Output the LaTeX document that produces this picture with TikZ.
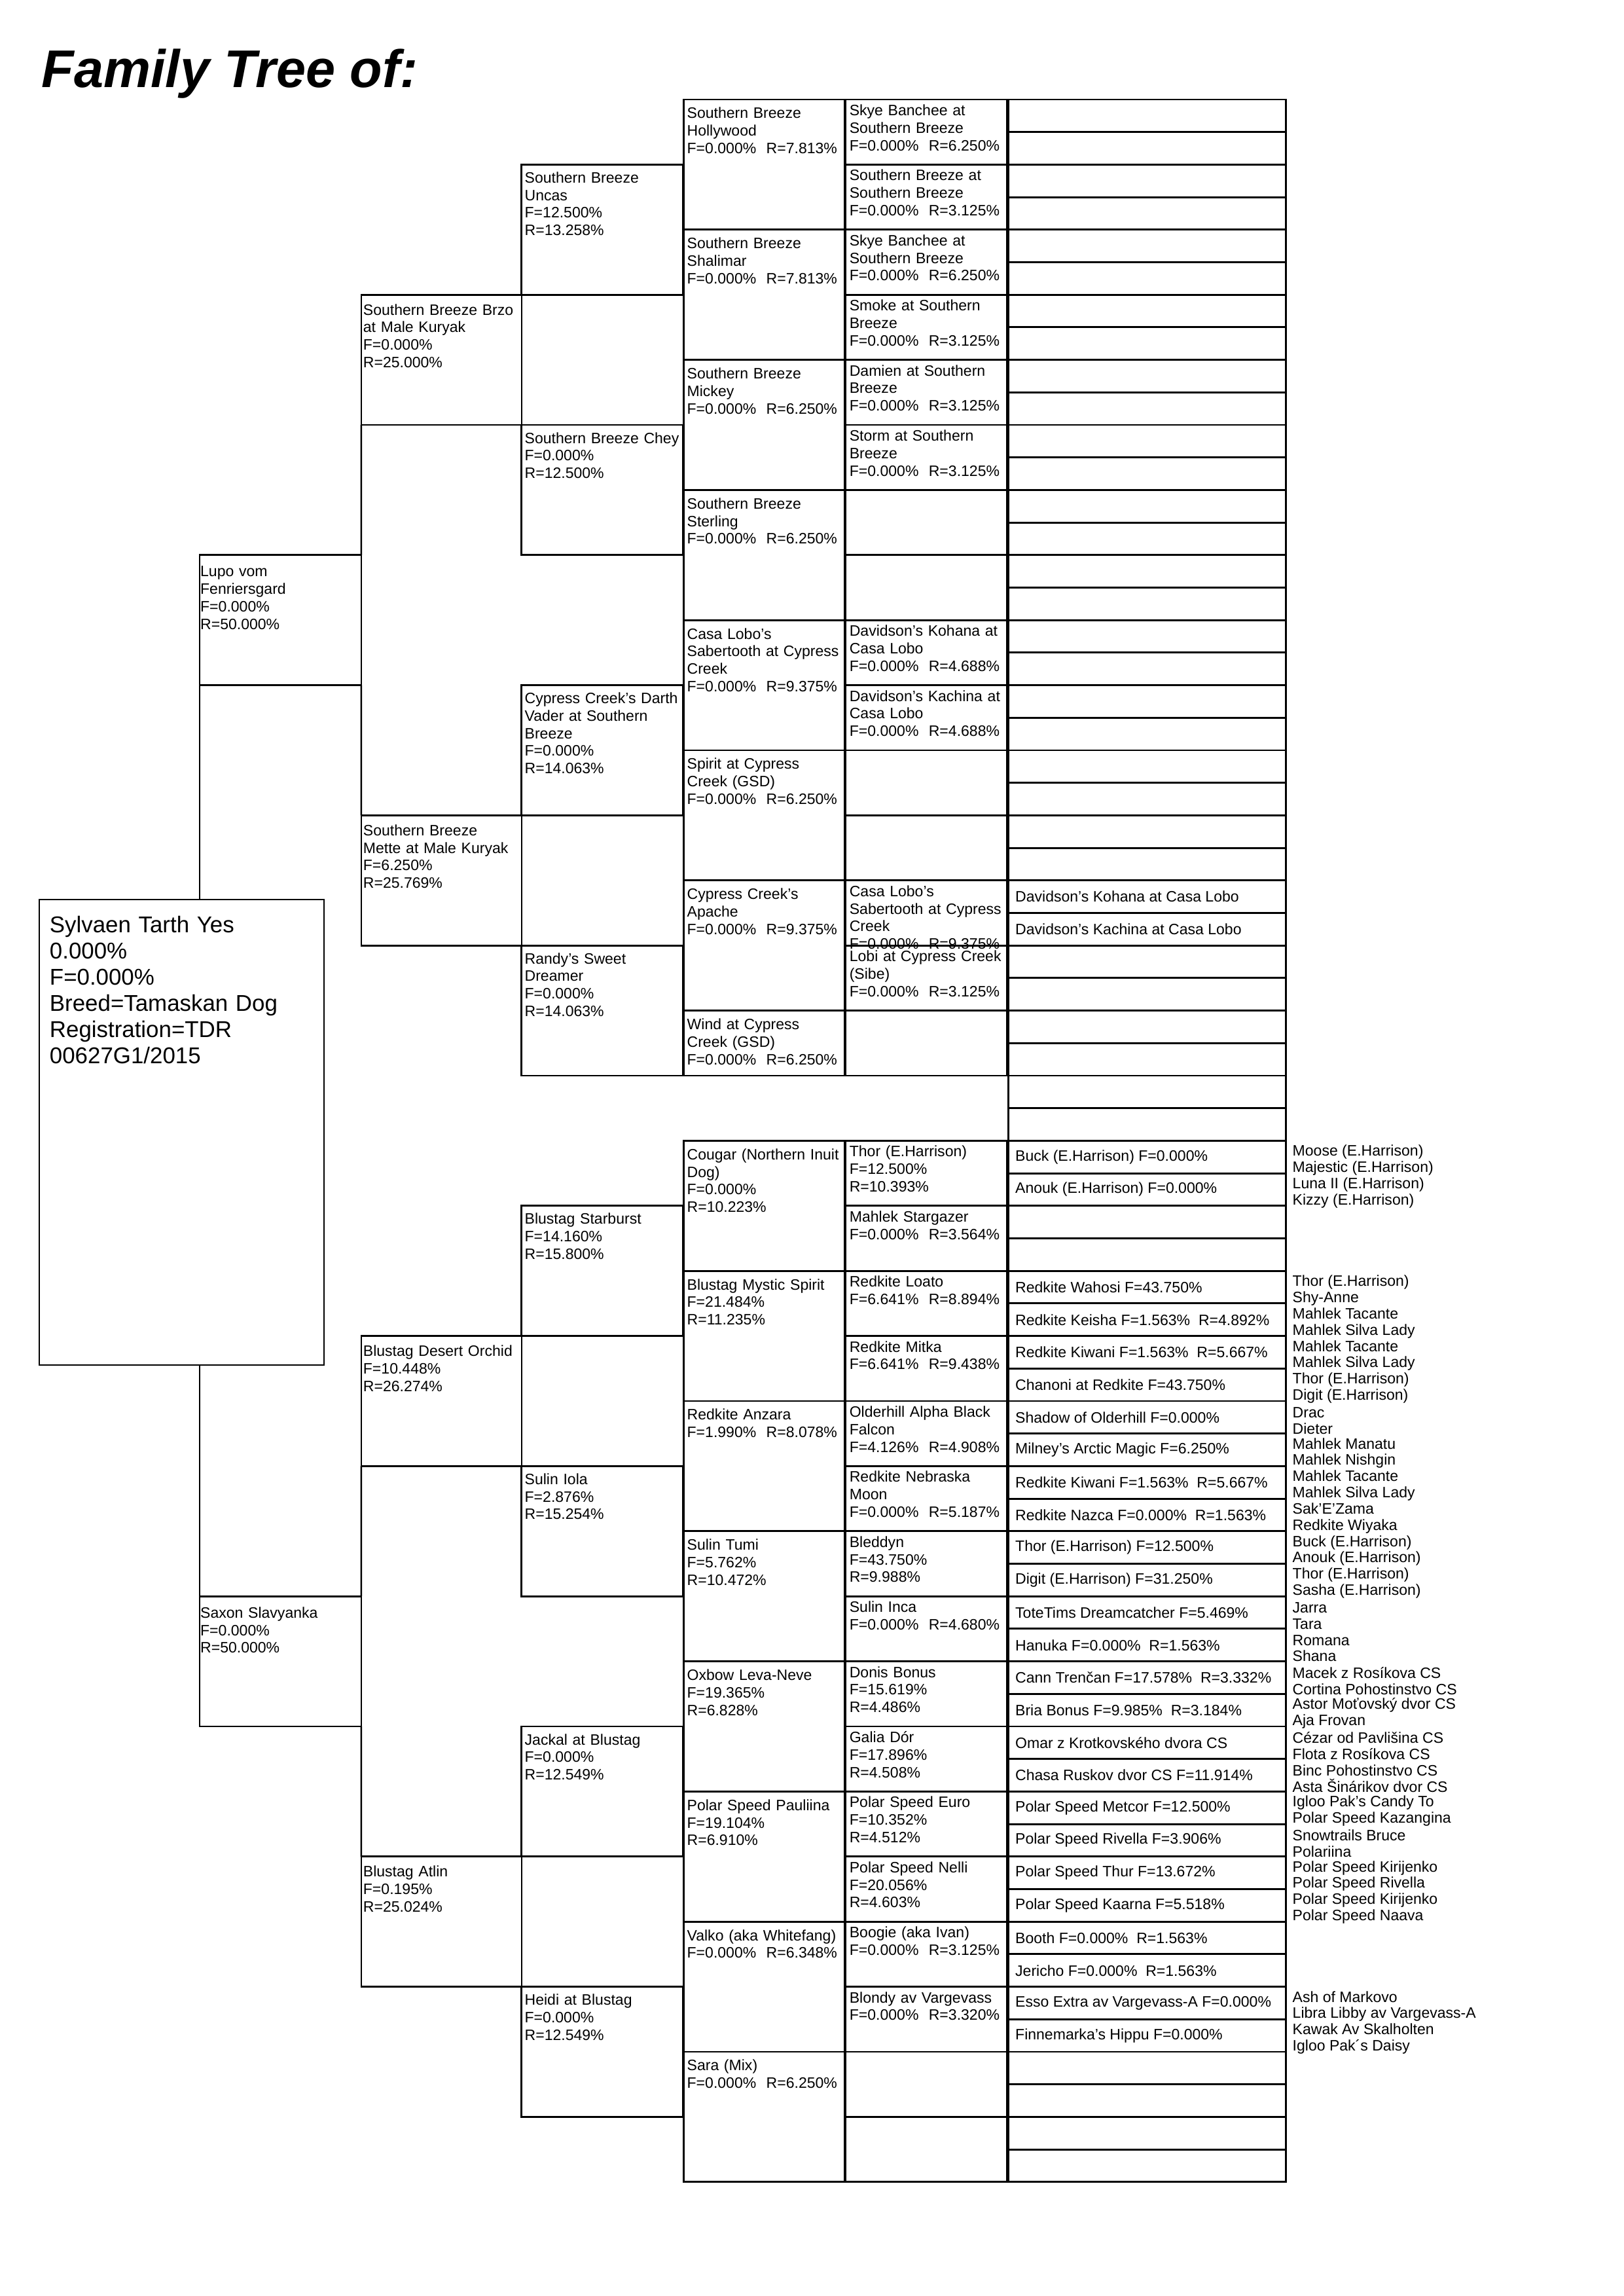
\documentclass[tikz,border=0pt]{standalone}
\usepackage{fontspec}
\setmainfont{Liberation Sans}
\usepackage{tikz}

\begin{document}
\begin{tikzpicture}[
    x=0.0846433mm, y=-4.2068mm,
    gen/.style={draw, line width=0.7pt, anchor=north west, outer sep=0pt, inner ysep=0pt, align=left, font=\fontsize{5.55}{6.45}\selectfont},
    root/.style={gen, font=\fontsize{8.4}{9.6}\selectfont, inner xsep=1.35mm, text width=34.12mm, text height=4.3mm, text depth=55.88mm},
    parent/.style={gen, inner xsep=0.1mm, text width=20.707mm, text height=2.8mm, text depth=14.027mm},
    grand/.style={gen, inner xsep=0.25mm, text width=20.238mm, text height=2.62mm, text depth=14.207mm},
    great/.style={gen, inner xsep=0.4mm, text width=20.107mm, text height=2.37mm, text depth=14.457mm},
    fourth/.style={gen, inner xsep=0.4mm, text width=20.022mm, text height=2.45mm, text depth=14.377mm},
    fifth/.style={gen, inner xsep=0.5mm, text width=19.907mm, text height=2.07mm, text depth=6.344mm},
    sixth/.style={gen, inner sep=0pt, minimum width=35.889mm, minimum height=4.2068mm},
    sixname/.style={anchor=west, inner xsep=0.8mm, inner ysep=0pt, font=\fontsize{5.55}{6.45}\selectfont},
    elder/.style={anchor=west, inner sep=0pt, align=left, font=\fontsize{5.55}{5.95}\selectfont},
    link/.style={line width=0.6pt}
]

\fill[white] (0,-3.0584) rectangle (2481,67.505);
\useasboundingbox (0,-3.0584) rectangle (2481,67.505);

\node[anchor=base west, inner sep=0pt, font=\fontsize{19.5}{23}\selectfont\bfseries\itshape] (title) at (63,-0.382) {Family Tree of:};

% the dog itself
\node[root] (sylvaen) at (60,24.588) {Sylvaen Tarth Yes\\0.000\%\\F=0.000\%\\Breed=Tamaskan Dog\\Registration=TDR\\00627G1/2015};

% parents
\node[parent] (lupo) at (305,14) {Lupo vom\\Fenriersgard\\F=0.000\%\\R=50.000\%};
\node[parent] (saxon) at (305,46) {Saxon Slavyanka\\F=0.000\%\\R=50.000\%};

% grandparents
\node[grand] (brzo) at (552,6) {Southern Breeze Brzo\\at Male Kuryak\\F=0.000\%\\R=25.000\%};
\node[grand] (mette) at (552,22) {Southern Breeze\\Mette at Male Kuryak\\F=6.250\%\\R=25.769\%};
\node[grand] (orchid) at (552,38) {Blustag Desert Orchid\\F=10.448\%\\R=26.274\%};
\node[grand] (atlin) at (552,54) {Blustag Atlin\\F=0.195\%\\R=25.024\%};

% great grandparents
\node[great] (uncas) at (797,2) {Southern Breeze\\Uncas\\F=12.500\%\\R=13.258\%};
\node[great] (chey) at (797,10) {Southern Breeze Chey\\F=0.000\%\\R=12.500\%};
\node[great] (darth) at (797,18) {Cypress Creek's Darth\\Vader at Southern\\Breeze\\F=0.000\%\\R=14.063\%};
\node[great] (randy) at (797,26) {Randy's Sweet\\Dreamer\\F=0.000\%\\R=14.063\%};
\node[great] (starburst) at (797,34) {Blustag Starburst\\F=14.160\%\\R=15.800\%};
\node[great] (iola) at (797,42) {Sulin Iola\\F=2.876\%\\R=15.254\%};
\node[great] (jackal) at (797,50) {Jackal at Blustag\\F=0.000\%\\R=12.549\%};
\node[great] (heidi) at (797,58) {Heidi at Blustag\\F=0.000\%\\R=12.549\%};

% fourth generation
\foreach \i/\dog in {
    0/{Southern Breeze\\Hollywood\\F=0.000\%\ \ R=7.813\%},
    1/{Southern Breeze\\Shalimar\\F=0.000\%\ \ R=7.813\%},
    2/{Southern Breeze\\Mickey\\F=0.000\%\ \ R=6.250\%},
    3/{Southern Breeze\\Sterling\\F=0.000\%\ \ R=6.250\%},
    4/{Casa Lobo's\\Sabertooth at Cypress\\Creek\\F=0.000\%\ \ R=9.375\%},
    5/{Spirit at Cypress\\Creek (GSD)\\F=0.000\%\ \ R=6.250\%},
    6/{Cypress Creek's\\Apache\\F=0.000\%\ \ R=9.375\%},
    8/{Cougar (Northern Inuit\\Dog)\\F=0.000\%\\R=10.223\%},
    9/{Blustag Mystic Spirit\\F=21.484\%\\R=11.235\%},
    10/{Redkite Anzara\\F=1.990\%\ \ R=8.078\%},
    11/{Sulin Tumi\\F=5.762\%\\R=10.472\%},
    12/{Oxbow Leva-Neve\\F=19.365\%\\R=6.828\%},
    13/{Polar Speed Pauliina\\F=19.104\%\\R=6.910\%},
    14/{Valko (aka Whitefang)\\F=0.000\%\ \ R=6.348\%},
    15/{Sara (Mix)\\F=0.000\%\ \ R=6.250\%}}
  \node[fourth] (g4-\i) at (1045,4*\i) {\dog};
\node[fourth, text depth=5.964mm] (g4-7) at (1045,28) {Wind at Cypress\\Creek (GSD)\\F=0.000\%\ \ R=6.250\%};

% fifth generation
\foreach \i/\dog in {
    0/{Skye Banchee at\\Southern Breeze\\F=0.000\%\ \ R=6.250\%},
    1/{Southern Breeze at\\Southern Breeze\\F=0.000\%\ \ R=3.125\%},
    2/{Skye Banchee at\\Southern Breeze\\F=0.000\%\ \ R=6.250\%},
    3/{Smoke at Southern\\Breeze\\F=0.000\%\ \ R=3.125\%},
    4/{Damien at Southern\\Breeze\\F=0.000\%\ \ R=3.125\%},
    5/{Storm at Southern\\Breeze\\F=0.000\%\ \ R=3.125\%},
    6/{}, 7/{},
    8/{Davidson's Kohana at\\Casa Lobo\\F=0.000\%\ \ R=4.688\%},
    9/{Davidson's Kachina at\\Casa Lobo\\F=0.000\%\ \ R=4.688\%},
    10/{}, 11/{},
    12/{Casa Lobo's\\Sabertooth at Cypress\\Creek\\F=0.000\%\ \ R=9.375\%},
    13/{Lobi at Cypress Creek\\(Sibe)\\F=0.000\%\ \ R=3.125\%},
    14/{},
    16/{Thor (E.Harrison)\\F=12.500\%\\R=10.393\%},
    17/{Mahlek Stargazer\\F=0.000\%\ \ R=3.564\%},
    18/{Redkite Loato\\F=6.641\%\ \ R=8.894\%},
    19/{Redkite Mitka\\F=6.641\%\ \ R=9.438\%},
    20/{Olderhill Alpha Black\\Falcon\\F=4.126\%\ \ R=4.908\%},
    21/{Redkite Nebraska\\Moon\\F=0.000\%\ \ R=5.187\%},
    22/{Bleddyn\\F=43.750\%\\R=9.988\%},
    23/{Sulin Inca\\F=0.000\%\ \ R=4.680\%},
    24/{Donis Bonus\\F=15.619\%\\R=4.486\%},
    25/{Galia Dór\\F=17.896\%\\R=4.508\%},
    26/{Polar Speed Euro\\F=10.352\%\\R=4.512\%},
    27/{Polar Speed Nelli\\F=20.056\%\\R=4.603\%},
    28/{Boogie (aka Ivan)\\F=0.000\%\ \ R=3.125\%},
    29/{Blondy av Vargevass\\F=0.000\%\ \ R=3.320\%},
    30/{}, 31/{}}
  \node[fifth] (g5-\i) at (1292,2*\i) {\dog};

% sixth generation
\foreach \i in {0,...,63}
  \node[sixth] (g6-\i) at (1541,\i) {};
\foreach \i/\dog in {
    24/{Davidson's Kohana at Casa Lobo},
    25/{Davidson's Kachina at Casa Lobo},
    32/{Buck (E.Harrison) F=0.000\%},
    33/{Anouk (E.Harrison) F=0.000\%},
    36/{Redkite Wahosi F=43.750\%},
    37/{Redkite Keisha F=1.563\%\ \ R=4.892\%},
    38/{Redkite Kiwani F=1.563\%\ \ R=5.667\%},
    39/{Chanoni at Redkite F=43.750\%},
    40/{Shadow of Olderhill F=0.000\%},
    41/{Milney's Arctic Magic F=6.250\%},
    42/{Redkite Kiwani F=1.563\%\ \ R=5.667\%},
    43/{Redkite Nazca F=0.000\%\ \ R=1.563\%},
    44/{Thor (E.Harrison) F=12.500\%},
    45/{Digit (E.Harrison) F=31.250\%},
    46/{ToteTims Dreamcatcher F=5.469\%},
    47/{Hanuka F=0.000\%\ \ R=1.563\%},
    48/{Cann Trenčan F=17.578\%\ \ R=3.332\%},
    49/{Bria Bonus F=9.985\%\ \ R=3.184\%},
    50/{Omar z Krotkovského dvora CS},
    51/{Chasa Ruskov dvor CS F=11.914\%},
    52/{Polar Speed Metcor F=12.500\%},
    53/{Polar Speed Rivella F=3.906\%},
    54/{Polar Speed Thur F=13.672\%},
    55/{Polar Speed Kaarna F=5.518\%},
    56/{Booth F=0.000\%\ \ R=1.563\%},
    57/{Jericho F=0.000\%\ \ R=1.563\%},
    58/{Esso Extra av Vargevass-A F=0.000\%},
    59/{Finnemarka's Hippu F=0.000\%}}
  \node[sixname] (n6-\i) at (g6-\i.west) {\dog};

% seventh generation, names only
\foreach \i/\sire/\dam in {
    32/Moose (E.Harrison)/Majestic (E.Harrison),
    33/Luna II (E.Harrison)/Kizzy (E.Harrison),
    36/Thor (E.Harrison)/Shy-Anne,
    37/Mahlek Tacante/Mahlek Silva Lady,
    38/Mahlek Tacante/Mahlek Silva Lady,
    39/Thor (E.Harrison)/Digit (E.Harrison),
    40/Drac/Dieter,
    41/Mahlek Manatu/Mahlek Nishgin,
    42/Mahlek Tacante/Mahlek Silva Lady,
    43/Sak'E'Zama/Redkite Wiyaka,
    44/Buck (E.Harrison)/Anouk (E.Harrison),
    45/Thor (E.Harrison)/Sasha (E.Harrison),
    46/Jarra/Tara,
    47/Romana/Shana,
    48/Macek z Rosíkova CS/Cortina Pohostinstvo CS,
    49/Astor Moťovský dvor CS/Aja Frovan,
    50/Cézar od Pavlišina CS/Flota z Rosíkova CS,
    51/Binc Pohostinstvo CS/Asta Šinárikov dvor CS,
    52/Igloo Pak’s Candy To/Polar Speed Kazangina,
    53/Snowtrails Bruce/Polariina,
    54/Polar Speed Kirijenko/Polar Speed Rivella,
    55/Polar Speed Kirijenko/Polar Speed Naava,
    58/Ash of Markovo/Libra Libby av Vargevass-A,
    59/Kawak Av Skalholten/Igloo Pak´s Daisy}
  \node[elder] (e7-\i) at (1974,\i+0.6) {\sire\\\dam};

% links between generations
\draw[link] (lupo.south west) -- (lupo.south west |- sylvaen.north);
\draw[link] (saxon.north west |- sylvaen.south) -- (saxon.north west);
\draw[link] (brzo.south west) -- (lupo.north east);
\draw[link] (lupo.south east) -- (mette.north west);
\draw[link] (orchid.south west) -- (saxon.north east);
\draw[link] (saxon.south east) -- (atlin.north west);

\end{tikzpicture}
\end{document}
